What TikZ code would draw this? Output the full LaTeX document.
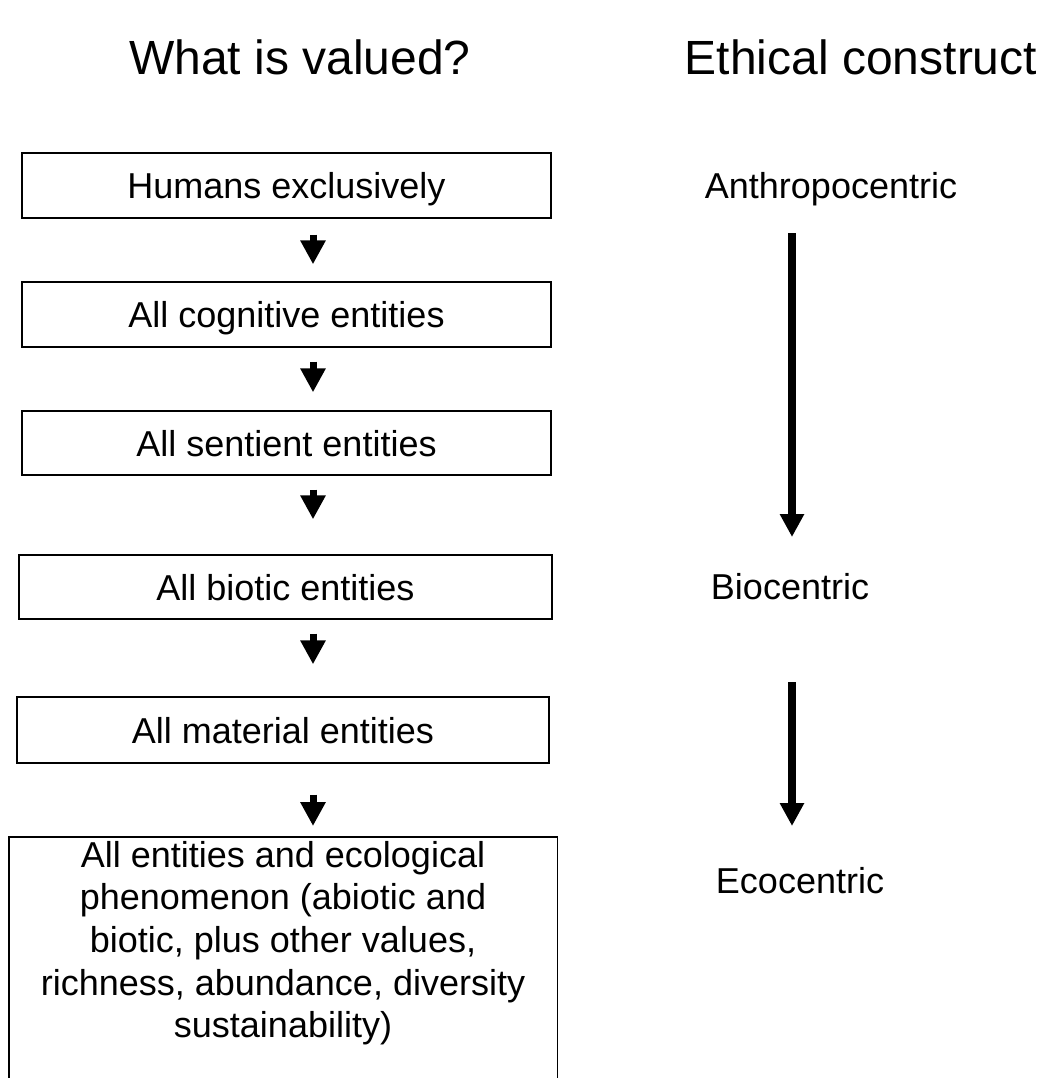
\documentclass[tikz,border=0pt]{standalone}
\usepackage{fontspec}
\setmainfont{Liberation Sans}
\usetikzlibrary{arrows.meta}
\begin{document}
\begin{tikzpicture}[x=1pt,y=-1pt,
  box/.style={draw, line width=1.4pt, inner sep=0pt, text height=26pt, text depth=0pt,
    font=\fontsize{36}{43}\selectfont},
  opentext/.style={inner sep=0pt, align=center, font=\fontsize{36}{42.6}\selectfont},
  sidetext/.style={inner sep=0pt, text height=26pt, text depth=0pt, font=\fontsize{36}{43}\selectfont},
  heading/.style={inner sep=0pt, font=\fontsize{48}{56}\selectfont},
  smallarrow/.style={line width=7pt, -{Triangle[width=24pt,length=24pt]}},
  bigarrow/.style={line width=8pt, -{Triangle[width=23pt,length=23pt]}},
  boxline/.style={line width=1.4pt},
]
\useasboundingbox (0,0) rectangle (1041,1078);

% column headings
\node[heading] (h1) at (300,57) {What is valued?};
\node[heading] (h2) at (861,57) {Ethical construct};

% axes for the arrow columns
\coordinate (ax) at (313,0);
\coordinate (bx) at (792,0);

% left column: what is valued
\node[box, minimum width=529pt, minimum height=65pt] (b1) at (286.5,185.5) {Humans exclusively};
\node[box, minimum width=529pt, minimum height=65pt] (b2) at (286.5,314.5) {All cognitive entities};
\node[box, minimum width=529pt, minimum height=64pt] (b3) at (286.5,443) {All sentient entities};
\node[box, minimum width=533pt, minimum height=64pt] (b4) at (285.5,587) {All biotic entities};
\node[box, minimum width=532pt, minimum height=66pt] (b5) at (283,730) {All material entities};
\node[opentext, anchor=north, minimum width=548pt, inner ysep=4pt] (b6) at (283,837)
  {All entities and ecological\\ phenomenon (abiotic and\\ biotic, plus other values,\\ richness, abundance, diversity\\ sustainability)};
\coordinate (pagebottom) at (0,1090);
\draw[boxline] (b6.north west |- pagebottom) -- (b6.north west) -- (b6.north east) -- (b6.north east |- pagebottom);

% small arrows between the boxes
\draw[smallarrow, shorten <=16pt, shorten >=17pt] (b1.south -| ax) -- (b2.north -| ax);
\draw[smallarrow, shorten <=14pt, shorten >=18pt] (b2.south -| ax) -- (b3.north -| ax);
\draw[smallarrow, shorten <=14pt, shorten >=35pt] (b3.south -| ax) -- (b4.north -| ax);
\draw[smallarrow, shorten <=14pt, shorten >=32pt] (b4.south -| ax) -- (b5.north -| ax);
\draw[smallarrow, shorten <=31pt, shorten >=11pt] (b5.south -| ax) -- (b6.north -| ax);

% right column: ethical construct
\node[sidetext] (e1) at (831,186) {Anthropocentric};
\node[sidetext] (e2) at (790,586) {Biocentric};
\node[sidetext] (e3) at (800,880) {Ecocentric};

\draw[bigarrow, shorten <=47pt, shorten >=49pt] (e1.center -| bx) -- (e2.center -| bx);
\draw[bigarrow, shorten <=96pt, shorten >=54pt] (e2.center -| bx) -- (e3.center -| bx);
\end{tikzpicture}
\end{document}
